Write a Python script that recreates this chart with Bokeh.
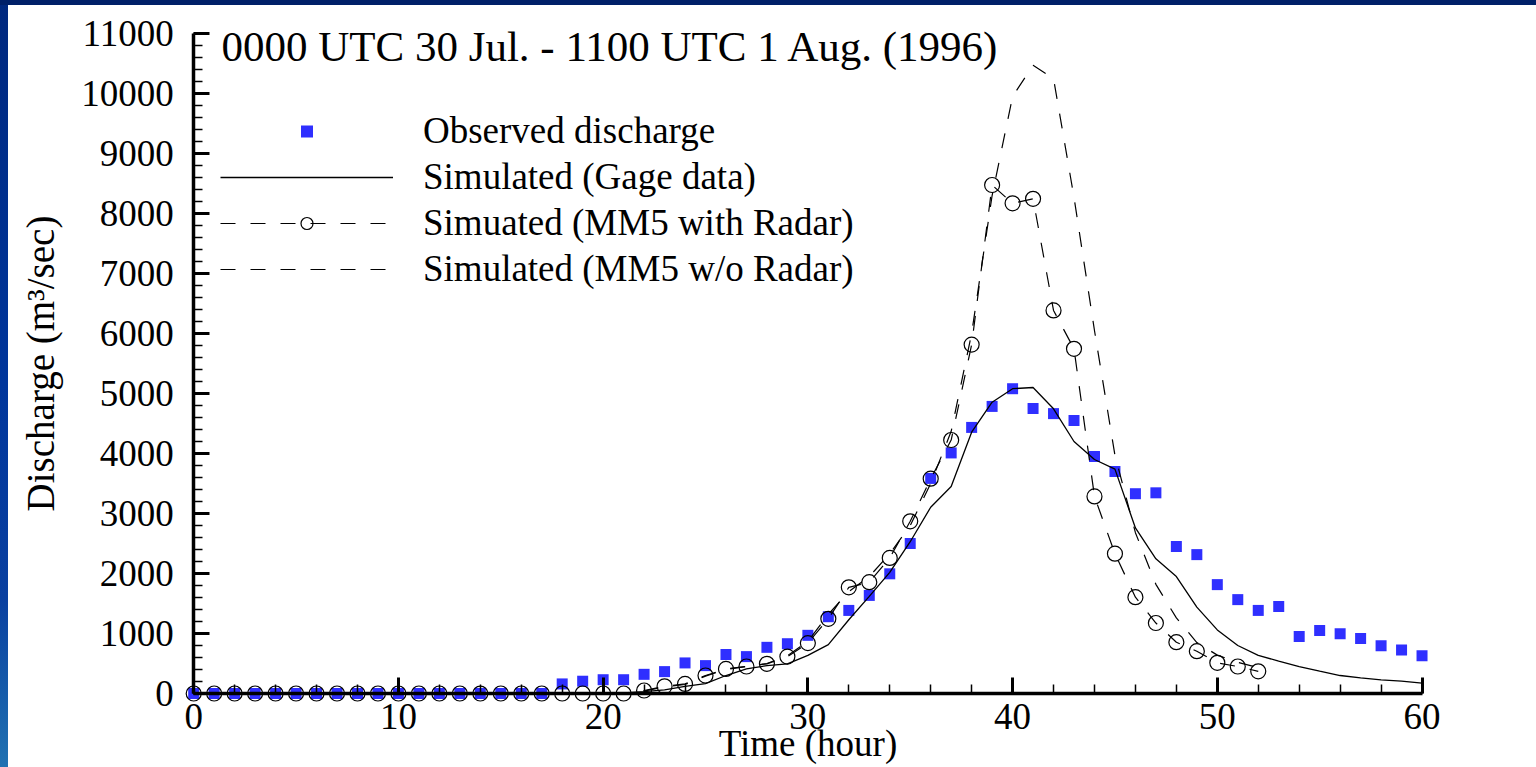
from bokeh.plotting import figure
from bokeh.models import (Range1d, SingleIntervalTicker, Legend, LegendItem, Label,
                          GlobalInlineStyleSheet)
from bokeh.embed import file_html
from bokeh.resources import INLINE

# ---------------- data ----------------
hours = list(range(0, 61))
observed = [0] * 18 + [160, 205, 230, 230, 320, 365, 510, 465, 650, 615, 770, 830, 970,
                       1280, 1385, 1635, 1995, 2500, 3585, 4010, 4435, 4785, 5080, 4750,
                       4665, 4550, 3950, 3700, 3330, 3345, 2450, 2315, 1815, 1565, 1385,
                       1450, 950, 1050, 995, 915, 795, 725, 630]
gage = [0] * 21 + [10, 30, 60, 120, 165, 300, 410, 465, 495, 635, 815, 1230, 1620, 2020,
                   2530, 3105, 3450, 4355, 4855, 5080, 5100, 4745, 4200, 3900, 3740, 2760,
                   2245, 1950, 1440, 1060, 800, 635, 540, 450, 372, 300, 260, 228, 205, 172]
hours_mm5 = list(range(0, 53))
mm5_radar = [0] * 22 + [50, 120, 160, 300, 410, 450, 495, 615, 840, 1245, 1770, 1855, 2260,
                        2870, 3580, 4225, 5815, 8475, 8170, 8245, 6385, 5745, 3285, 2330,
                        1605, 1175, 855, 705, 512, 450, 370]
mm5_noradar = [0] * 22 + [40, 110, 150, 290, 400, 450, 500, 630, 870, 1320, 1700, 1950, 2330,
                          2800, 3500, 4370, 6000, 8300, 9950, 10470, 10250, 8270, 6050, 3970,
                          2680, 1820, 1260, 850, 640, 520, 430]
legend_labels = ["Observed discharge", "Simulated (Gage data)",
                 "Simuated (MM5 with Radar)", "Simulated (MM5 w/o Radar)"]
title_text = "0000 UTC 30 Jul. - 1100 UTC 1 Aug. (1996)"

FONT = "Liberation Serif"
FS = "37px"

CSS = """
html {
  background:
    linear-gradient(#002068, #002068) 0 0 / 100% 5px no-repeat,
    linear-gradient(to bottom, #00287e 0%, #00369c 50%, #0a40a0 78%, #2072b2 100%) 0 0 / 8px 100% no-repeat,
    #ffffff;
  overflow: hidden;
}
"""

p = figure(frame_width=1431, frame_height=759,
           min_border_left=11, min_border_right=94, min_border_top=8, min_border_bottom=0,
           x_range=Range1d(-8.9, 61), y_range=Range1d(-1233, 11417),
           output_backend="svg", toolbar_location=None,
           border_fill_color=None, background_fill_color="white",
           outline_line_color=None)
p.stylesheets = [GlobalInlineStyleSheet(css=CSS)]
p.xgrid.visible = False
p.ygrid.visible = False

sq = p.scatter(hours, observed, marker="square", size=11, fill_color="#2f2fff",
               line_color=None)
gl = p.line(hours, gage, line_color="black", line_width=1.3)
rl = p.line(hours_mm5, mm5_radar, line_color="black", line_width=1.2, line_dash="15 15")
rc = p.scatter(hours_mm5, mm5_radar, marker="circle", size=15, fill_alpha=0,
               line_color="black", line_width=1.2)
nl = p.line(hours_mm5, mm5_noradar, line_color="black", line_width=1.2, line_dash="15 15")

xa = p.xaxis[0]
ya = p.yaxis[0]
xa.fixed_location = 0
ya.fixed_location = 0
xa.bounds = (0, 60)
ya.bounds = (0, 11000)
xa.ticker = SingleIntervalTicker(interval=10, num_minor_ticks=5)
ya.ticker = SingleIntervalTicker(interval=1000, num_minor_ticks=5)
for ax in (xa, ya):
    ax.axis_line_width = 3.5
    ax.axis_line_color = "black"
    ax.major_tick_in = 16
    ax.major_tick_out = 0
    ax.minor_tick_in = 9
    ax.minor_tick_out = 0
    ax.major_tick_line_width = 3
    ax.minor_tick_line_width = 1.5
    ax.major_tick_line_color = "black"
    ax.minor_tick_line_color = "black"
    ax.major_label_text_font = FONT
    ax.major_label_text_font_size = FS
    ax.major_label_text_color = "black"
    ax.axis_label_text_font = FONT
    ax.axis_label_text_font_size = FS
    ax.axis_label_text_font_style = "normal"
    ax.axis_label_text_color = "black"
ya.axis_label_text_font_size = "39px"
xa.major_label_standoff = 10
ya.major_label_standoff = 20
xa.axis_label = "Time (hour)"
ya.axis_label = "Discharge (m³/sec)"
xa.axis_label_standoff = -9
ya.axis_label_standoff = 16

legend = Legend(items=[LegendItem(label=legend_labels[0], renderers=[sq]),
                       LegendItem(label=legend_labels[1], renderers=[gl]),
                       LegendItem(label=legend_labels[2], renderers=[rl, rc]),
                       LegendItem(label=legend_labels[3], renderers=[nl])],
                location=(209, 477), padding=0, margin=0, spacing=3,
                glyph_width=173, glyph_height=30, label_standoff=30,
                label_text_font=FONT, label_text_font_size=FS,
                label_text_color="black",
                border_line_alpha=0, background_fill_alpha=0)
p.add_layout(legend)

title = Label(x=1.353, y=10780, text=title_text, text_font=FONT, text_font_size="43px",
              text_baseline="alphabetic", text_color="black")
p.add_layout(title)

open("out.html", "w").write(file_html(p, INLINE))
